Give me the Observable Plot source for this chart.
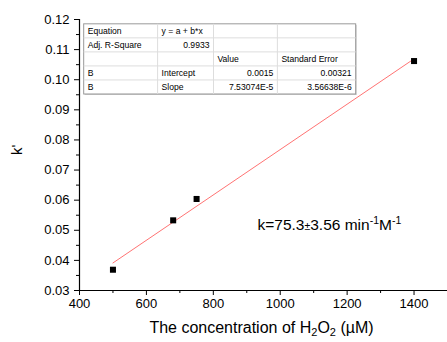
<!DOCTYPE html>
<html><head><meta charset="utf-8">
<script src="https://cdn.jsdelivr.net/npm/d3@7"></script>
<script src="https://cdn.jsdelivr.net/npm/@observablehq/plot@0.6"></script>
<style>body{margin:0;background:#fff;} svg{font-family:"Liberation Sans",Arial,sans-serif;}</style>
</head><body><div id="chart"></div>
<script>
const conc = [500, 680, 750, 1400];
const kPrime = [0.0369, 0.0533, 0.0604, 0.1062];
const intercept = 0.0015;
const slope = 7.53074e-5;
const xTicks = [400, 600, 800, 1000, 1200, 1400];
const xMinor = [500, 700, 900, 1100, 1300, 1500];
const yTicks = [0.03, 0.04, 0.05, 0.06, 0.07, 0.08, 0.09, 0.10, 0.11, 0.12];
const yMinor = [0.035, 0.045, 0.055, 0.065, 0.075, 0.085, 0.095, 0.105, 0.115];
const tableRows = [
  ["Equation", "y = a + b*x", "", ""],
  ["Adj. R-Square", "0.9933", "", ""],
  ["", "", "Value", "Standard Error"],
  ["B", "Intercept", "0.0015", "0.00321"],
  ["B", "Slope", "7.53074E-5", "3.56638E-6"]
];

(function () {
const pts = conc.map((x, i) => ({x, y: kPrime[i]}));
const fitX = [d3.min(conc), d3.max(conc)];
const fit = fitX.map(x => ({x, y: intercept + slope * x}));

const plot = Plot.plot({
  width: 447, height: 342,
  marginLeft: 79, marginRight: 0, marginTop: 19, marginBottom: 52,
  style: {fontFamily: "'Liberation Sans', Arial, sans-serif", background: "#fff", color: "#000"},
  x: {domain: [400, 1500]},
  y: {domain: [0.03, 0.12]},
  marks: [
    Plot.axisX({ticks: xTicks, tickSize: 5, tickPadding: 3, tickFormat: d3.format("d"), fontSize: 13, label: null, strokeWidth: 1}),
    Plot.axisX({ticks: xMinor, tickSize: 3, tickFormat: () => "", label: null}),
    Plot.axisY({ticks: yTicks, tickSize: 5, tickPadding: 5, tickFormat: d3.format(".2f"), fontSize: 13, label: null}),
    Plot.axisY({ticks: yMinor, tickSize: 3, tickFormat: () => "", label: null}),
    Plot.ruleY([0.03], {stroke: "#000", strokeWidth: 1.2}),
    Plot.ruleX([400], {stroke: "#000", strokeWidth: 1.2}),
    Plot.line(fit, {x: "x", y: "y", stroke: "#ff7373", strokeWidth: 1}),
    Plot.dot(pts, {x: "x", y: "y", symbol: "square", r: 3.4, fill: "#000", stroke: "none"}),
    Plot.text(["k=75.3\u00b13.56 min-1M-1"], {x: 932, y: 0.0516, text: d => d, fontSize: 15.5, textAnchor: "start", className: "kann"}),
    Plot.text(["The concentration of H2O2 (\u00b5M)"], {frameAnchor: "bottom", text: d => d, fontSize: 16, dy: 42, dx: -2, className: "xlab"}),
    Plot.text(["k'"], {frameAnchor: "left", text: d => d, fontSize: 15, rotate: -90, dx: -62, className: "ylab"})
  ]
});

const svg = d3.select(plot);
svg.selectAll(".xlab text").each(function() {
  const t = d3.select(this); t.text(null);
  t.append("tspan").text("The concentration of H");
  t.append("tspan").text("2").attr("font-size", 11).attr("dy", 3.5);
  t.append("tspan").text("O").attr("dy", -3.5);
  t.append("tspan").text("2").attr("font-size", 11).attr("dy", 3.5);
  t.append("tspan").text(" (\u00b5M)").attr("dy", -3.5);
});
svg.selectAll(".kann text").each(function() {
  const t = d3.select(this); t.text(null);
  t.append("tspan").text("k=75.3");
  t.append("tspan").text("\u00b1").attr("font-size", 10.5);
  t.append("tspan").text("3.56 min");
  t.append("tspan").text("-1").attr("font-size", 10.5).attr("dy", -6);
  t.append("tspan").text("M").attr("dy", 6);
  t.append("tspan").text("-1").attr("font-size", 10.5).attr("dy", -6);
});

const sx = plot.scale("x"), sy = plot.scale("y");
const colX = [414, 635, 802, 993, 1227].map(v => sx.apply(v));
const tTop = sy.apply(0.1184), tBot = sy.apply(0.0951);
const rowH = (tBot - tTop) / tableRows.length;
const g = svg.append("g").attr("font-size", 8.6).attr("fill", "#000");
g.append("rect").attr("x", colX[0] + 1).attr("y", tTop + 1).attr("width", colX[4] - colX[0]).attr("height", tBot - tTop).attr("fill", "#ccc");
g.append("rect").attr("x", colX[0]).attr("y", tTop).attr("width", colX[4] - colX[0]).attr("height", tBot - tTop).attr("fill", "#fff").attr("stroke", "#999");
for (let i = 1; i < tableRows.length; i++) g.append("line").attr("x1", colX[0]).attr("x2", colX[4]).attr("y1", tTop + i * rowH).attr("y2", tTop + i * rowH).attr("stroke", "#ddd");
for (let j = 1; j < 4; j++) g.append("line").attr("x1", colX[j]).attr("x2", colX[j]).attr("y1", tTop).attr("y2", tBot).attr("stroke", "#ddd");
tableRows.forEach((row, i) => {
  row.forEach((txt, j) => {
    if (!txt) return;
    const numeric = /^[\d.E-]+$/.test(txt);
    const tx = numeric ? colX[j + 1] - 4 : colX[j] + 4;
    g.append("text").attr("x", tx).attr("y", tTop + i * rowH + rowH / 2 + 3)
      .attr("text-anchor", numeric ? "end" : "start").text(txt);
  });
});

document.getElementById("chart").appendChild(plot);
})();
</script></body></html>
